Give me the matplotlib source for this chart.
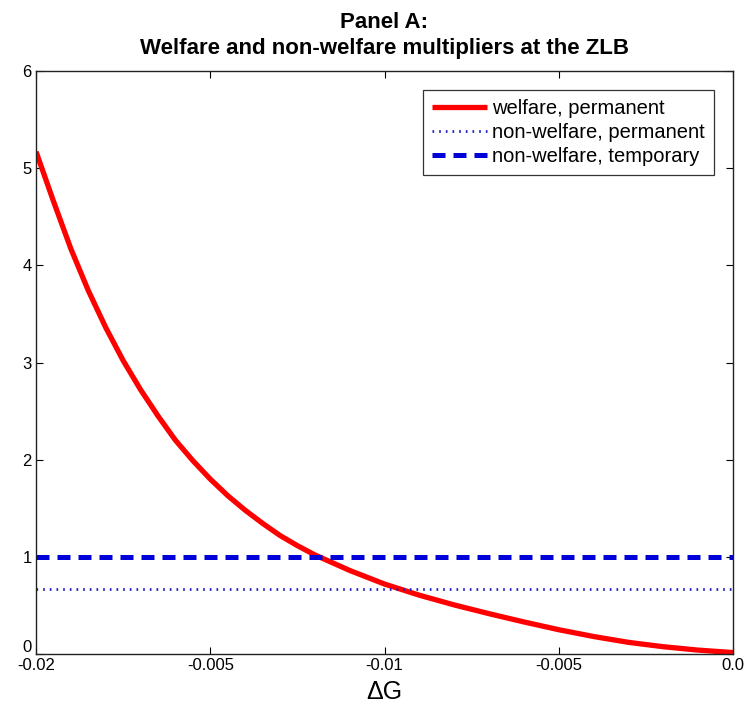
import matplotlib
matplotlib.use("Agg")
import matplotlib.pyplot as plt
import matplotlib.transforms as mtransforms

OUTPUT_FILE = "out.png"

# Welfare multiplier for a permanent change in G, against the size of the change
dG = [-0.0200, -0.0195, -0.0190, -0.0185, -0.0180, -0.0175, -0.0170, -0.0165,
      -0.0160, -0.0155, -0.0150, -0.0145, -0.0140, -0.0135, -0.0130, -0.0125,
      -0.0120, -0.0110, -0.0100, -0.0090, -0.0080, -0.0070, -0.0060, -0.0050,
      -0.0040, -0.0030, -0.0020, -0.0010, 0.0]
welfare_perm = [5.17, 4.66, 4.17, 3.74, 3.36, 3.02, 2.72, 2.45,
                2.20, 1.99, 1.80, 1.63, 1.48, 1.345, 1.22, 1.115,
                1.02, 0.86, 0.72, 0.605, 0.505, 0.415, 0.33, 0.25,
                0.18, 0.12, 0.075, 0.04, 0.015]

# Non-welfare multipliers are flat in dG
nonwelfare_perm = 0.67
nonwelfare_temp = 1.0

x_ticks = [-0.02, -0.015, -0.01, -0.005, 0.0]
x_ticklabels = ["-0.02", "-0.005", "-0.01", "-0.005", "0.0"]
y_ticks = [0, 1, 2, 3, 4, 5, 6]

plt.rcParams["font.family"] = ["Liberation Sans", "DejaVu Sans"]

fig = plt.figure(figsize=(7.46, 7.15), dpi=100)
ax = fig.add_axes([0.0483, 0.0853, 0.9343, 0.8154])

ax.plot(dG, welfare_perm, color="#ff0000", linewidth=3.8,
        label="welfare, permanent", solid_capstyle="butt")
ax.plot([x_ticks[0], x_ticks[-1]], [nonwelfare_perm, nonwelfare_perm],
        color="#2020c0", linewidth=2.0, linestyle=(0, (0.6, 1.8)),
        label="non-welfare, permanent")
ax.plot([x_ticks[0], x_ticks[-1]], [nonwelfare_temp, nonwelfare_temp],
        color="#0000d8", linewidth=3.6, linestyle=(0, (2.6, 1.6)),
        label="non-welfare, temporary")

ax.set_xlim(x_ticks[0], x_ticks[-1])
ax.set_ylim(0, 6)
ax.set_xticks(x_ticks)
ax.set_xticklabels(x_ticklabels)
ax.set_yticks(y_ticks)
ax.tick_params(direction="in", length=5, width=0.8, top=True, right=True,
               labelsize=12, pad=3)
for s in ax.spines.values():
    s.set_linewidth(1.0)
    s.set_color("#222222")

# lift the y "0" so it clears the first x label
zero_lbl = ax.get_yticklabels()[0]
zero_lbl.set_transform(zero_lbl.get_transform() +
                       mtransforms.ScaledTranslation(0, 8 / 100, fig.dpi_scale_trans))

ax.set_xlabel("ΔG", fontsize=18, labelpad=5)
ax.set_title("Panel A:\nWelfare and non-welfare multipliers at the ZLB",
             fontsize=16, fontweight="bold", pad=12, linespacing=1.35)

leg = ax.legend(loc="upper right", fontsize=14.5, frameon=True, fancybox=False,
                edgecolor="black", handlelength=2.75, handletextpad=0.25,
                borderaxespad=0.95, labelspacing=0.25, borderpad=0.45)
leg.get_frame().set_linewidth(0.9)

fig.savefig(OUTPUT_FILE, dpi=100)
